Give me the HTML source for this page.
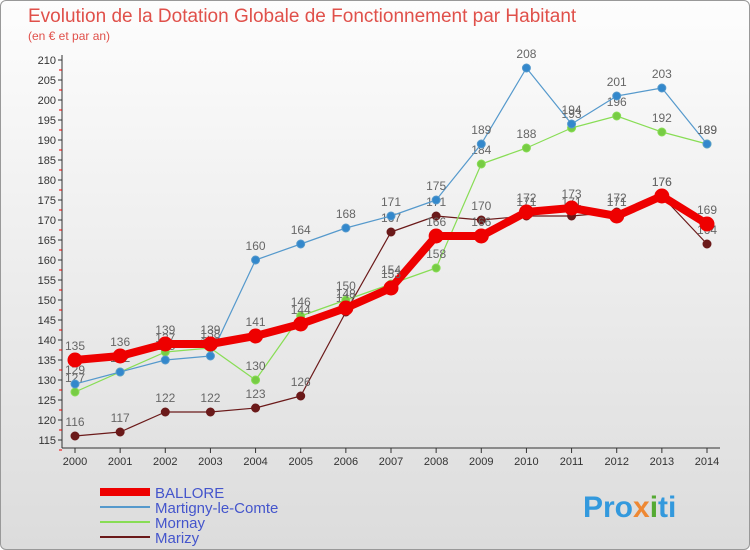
<!DOCTYPE html>
<html><head><meta charset="utf-8"><style>
body{margin:0;width:750px;height:550px;overflow:hidden;font-family:"Liberation Sans",sans-serif}
.wrap{position:relative;width:748px;height:548px;border:1px solid #999;border-radius:6px;background:linear-gradient(#fdfdfd,#dcdcdc);overflow:hidden}
</style></head><body>
<div class="wrap">
<svg width="750" height="550" id="chart" style="position:absolute;left:-1px;top:-1px">
<text x="28" y="22" font-size="19" fill="#e0504a">Evolution de la Dotation Globale de Fonctionnement par Habitant</text>
<text x="28" y="40" font-size="12" fill="#e0504a">(en € et par an)</text>
<g id="axes"></g><g id="series"></g><g id="legend"></g>
<text x="583" y="517" font-size="30" font-weight="bold" fill="#3399dd">Pro<tspan fill="#ee8833">x</tspan><tspan fill="#55aa33">i</tspan>ti</text>
</svg>
</div>
<script>
const years=[2000,2001,2002,2003,2004,2005,2006,2007,2008,2009,2010,2011,2012,2013,2014];
const yTicks=[115,120,125,130,135,140,145,150,155,160,165,170,175,180,185,190,195,200,205,210];
const ballore=[135,136,139,139,141,144,148,153,166,166,172,173,171,176,169];
const martigny=[129,132,135,136,160,164,168,171,175,189,208,194,201,203,189];
const mornay=[127,132,137,138,130,146,150,154,158,184,188,193,196,192,189];
const marizy=[116,117,122,122,123,126,147,167,171,170,171,171,172,176,164];
const NS="http://www.w3.org/2000/svg";
const xS=i=>75+i*(632/14);
const yS=v=>60+(210-v)*4;
function mk(t,a,p){const e=document.createElementNS(NS,t);for(const k in a)e.setAttribute(k,a[k]);p.appendChild(e);return e;}
const ax=document.getElementById('axes');
let l=mk('line',{x1:62,y1:55,x2:62,y2:448,stroke:'#333'},ax);


l=mk('line',{x1:62,y1:448,x2:720,y2:448,stroke:'#333'},ax);


yTicks.forEach(v=>{const y=yS(v);
mk('line',{x1:58,y1:y,x2:62,y2:y,stroke:'#333'},ax);
mk('line',{x1:59,y1:y+10,x2:62,y2:y+10,stroke:'#e00'},ax);
const t=mk('text',{x:56,y:y+4,'font-size':11,'text-anchor':'end',fill:'#333'},ax);t.textContent=v;

});
years.forEach((yr,i)=>{const x=xS(i);
mk('line',{x1:x,y1:448,x2:x,y2:453,stroke:'#333'},ax);
const t=mk('text',{x:x,y:465,'font-size':11,'text-anchor':'middle',fill:'#333'},ax);t.textContent=yr;

});
const sg=document.getElementById('series');
function draw(vals,color,w,r,name,dot){
const g=mk('g',{},sg);


mk('polyline',{points:vals.map((v,i)=>xS(i)+','+yS(v)).join(' '),fill:'none',stroke:color,'stroke-width':w,'stroke-linejoin':'round'},g);
vals.forEach((v,i)=>{const c=mk('circle',{cx:xS(i),cy:yS(v),r:r,fill:dot,stroke:color,'stroke-width':1},g);


const t=mk('text',{x:xS(i),y:yS(v)-10,'font-size':12,'text-anchor':'middle',fill:'#666'},g);t.textContent=v;

});}
draw(marizy,'#6b1a1a',1.2,4,'marizy-series','#6b1a1a');
draw(mornay,'#88dd55',1.2,4,'mornay-series','#77cc44');
draw(martigny,'#5599cc',1.2,4,'martigny-series','#3388cc');
draw(ballore,'#ee0000',8,7,'ballore-series','#ee0000');
const lg=document.getElementById('legend');
const items=[['BALLORE','#ee0000',8],['Martigny-le-Comte','#5599cc',2],['Mornay','#88dd55',2],['Marizy','#6b1a1a',2]];
items.forEach((it,i)=>{const y=492+i*15;
const ln=mk('line',{x1:100,y1:y,x2:150,y2:y,stroke:it[1],'stroke-width':it[2]},lg);


const t=mk('text',{x:155,y:y+6,'font-size':15,fill:'#4455cc'},lg);t.textContent=it[0];

});
</script>
</body></html>
